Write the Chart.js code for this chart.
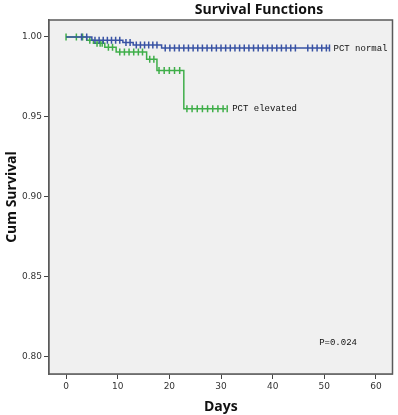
<!DOCTYPE html>
<html>
<head>
<meta charset="utf-8">
<script src="https://cdn.jsdelivr.net/npm/chart.js@4"></script>
<style>
  body { margin: 0; background: #fff; }
  #wrap { width: 398px; height: 415px; }
</style>
</head>
<body>
<div id="wrap"><canvas id="kmChart" width="398" height="415"></canvas></div>
<script>
// Kaplan-Meier steps (day of event, survival after event)
const normalStepDays = [0, 5, 11, 13, 18.5, 51];
const normalStepSurv = [1.0, 0.998, 0.9965, 0.995, 0.993, 0.993];
const normalCensorDays = [3, 4, 5.6, 6.4, 7.2, 8, 8.8, 9.6, 10.4, 11.6, 12.4, 13.6, 14.4, 15.2, 16, 16.8, 17.6,
    19.2, 20.1, 21, 21.9, 22.8, 23.7, 24.6, 25.5, 26.4, 27.3, 28.2, 29.1, 30, 30.9, 31.8, 32.7, 33.6,
    34.5, 35.4, 36.3, 37.2, 38.1, 39, 39.9, 40.8, 41.7, 42.6, 43.5, 44.4, 46.8, 47.7, 48.6, 49.5, 50.4, 51];

const elevatedStepDays = [0, 4, 5.3, 7.5, 9.7, 15.6, 17.6, 22.8, 31];
const elevatedStepSurv = [1.0, 0.998, 0.996, 0.9935, 0.9905, 0.986, 0.979, 0.955, 0.955];
const elevatedCensorDays = [0, 2, 3.2, 4.6, 6, 6.6, 7, 8.2, 9, 10.4, 11.3, 12.2, 13.1, 14, 14.8, 16.2, 17,
    18, 19, 20, 21, 22, 23.4, 24.4, 25.4, 26.4, 27.4, 28.4, 29.4, 30.4, 31.2];

const xTicks = [0, 10, 20, 30, 40, 50, 60];
const yTicks = [0.80, 0.85, 0.90, 0.95, 1.00];

const blue = '#3953a4';
const green = '#3fae49';

function toPoints(days, surv) {
    return days.map(function (d, i) { return { x: d, y: surv[i] }; });
}

// survival value of a step curve at a given day
function survAt(days, surv, t) {
    var s = surv[0];
    for (var i = 0; i < days.length; i++) {
        if (days[i] <= t) s = surv[i];
    }
    return s;
}

function censorPoints(cDays, days, surv) {
    return cDays.map(function (d) { return { x: d, y: survAt(days, surv, d) }; });
}

// gray plot background and frame
const plotBox = {
    id: 'plotBox',
    beforeDatasetsDraw: function (chart) {
        var a = chart.chartArea, c = chart.ctx;
        c.save();
        c.fillStyle = '#f0f0f0';
        c.fillRect(a.left, a.top, a.right - a.left, a.bottom - a.top);
        c.restore();
    },
    afterDraw: function (chart) {
        var a = chart.chartArea, c = chart.ctx;
        var xs = chart.scales.x, ys = chart.scales.y;
        c.save();
        c.strokeStyle = '#5a5a5a';
        c.lineWidth = 1.5;
        c.strokeRect(a.left, a.top, a.right - a.left, a.bottom - a.top);

        c.fillStyle = '#111';
        c.font = 'bold 14px "Open Sans"';
        c.textAlign = 'center';
        c.textBaseline = 'middle';
        c.fillText('Survival Functions', 259, 10);

        c.font = '9px "Liberation Mono"';
        c.textAlign = 'left';
        c.fillStyle = '#111';
        var nLast = normalStepDays.length - 1;
        c.fillText('PCT normal', xs.getPixelForValue(normalStepDays[nLast]) + 4, ys.getPixelForValue(normalStepSurv[nLast]));
        var eLast = elevatedStepDays.length - 1;
        c.fillText('PCT elevated', xs.getPixelForValue(elevatedStepDays[eLast]) + 6, ys.getPixelForValue(elevatedStepSurv[eLast]));
        c.fillText('P=0.024', xs.getPixelForValue(49), ys.getPixelForValue(0.8088));
        c.restore();
    }
};

var ctx = document.getElementById('kmChart').getContext('2d');

var kmChart = new Chart(ctx, {
    type: 'line',
    data: {
        datasets: [
            {
                label: 'PCT normal',
                data: toPoints(normalStepDays, normalStepSurv),
                borderColor: blue,
                borderWidth: 1.5,
                stepped: 'before',
                pointRadius: 0
            },
            {
                label: 'PCT normal censored',
                data: censorPoints(normalCensorDays, normalStepDays, normalStepSurv),
                showLine: false,
                pointStyle: 'line',
                rotation: 90,
                pointRadius: 3.5,
                borderColor: blue,
                borderWidth: 1.5
            },
            {
                label: 'PCT elevated',
                data: toPoints(elevatedStepDays, elevatedStepSurv),
                borderColor: green,
                borderWidth: 1.5,
                stepped: 'before',
                pointRadius: 0
            },
            {
                label: 'PCT elevated censored',
                data: censorPoints(elevatedCensorDays, elevatedStepDays, elevatedStepSurv),
                showLine: false,
                pointStyle: 'line',
                rotation: 90,
                pointRadius: 3.5,
                borderColor: green,
                borderWidth: 1.5
            }
        ]
    },
    plugins: [plotBox],
    options: {
        responsive: false,
        animation: false,
        layout: { padding: { top: 20, right: 4, left: 0, bottom: 0 } },
        plugins: {
            legend: { display: false },
            tooltip: { enabled: false }
        },
        scales: {
            x: {
                type: 'linear',
                min: -3.3,
                max: 63.2,
                afterBuildTicks: function (scale) {
                    scale.ticks = xTicks.map(function (v) { return { value: v }; });
                },
                afterFit: function (scale) { scale.height = 41; },
                grid: { drawOnChartArea: false, tickLength: 5, color: '#444', tickWidth: 1 },
                border: { display: true, color: '#5a5a5a', width: 1.5 },
                ticks: {
                    padding: 2,
                    color: '#333',
                    font: { family: 'DejaVu Sans', size: 9 },
                    maxRotation: 0
                },
                title: {
                    display: true,
                    text: 'Days',
                    color: '#111',
                    font: { family: 'Open Sans', size: 14, weight: 'bold' },
                    padding: { top: 1.2, bottom: 0 }
                }
            },
            y: {
                min: 0.789,
                max: 1.0106,
                afterBuildTicks: function (scale) {
                    scale.ticks = yTicks.map(function (v) { return { value: v }; });
                },
                afterFit: function (scale) { scale.width = 49; },
                grid: { drawOnChartArea: false, tickLength: 5, color: '#444', tickWidth: 1 },
                border: { display: true, color: '#5a5a5a', width: 1.5 },
                ticks: {
                    padding: 2,
                    color: '#333',
                    font: { family: 'DejaVu Sans', size: 9 },
                    callback: function (v) { return Number(v).toFixed(2); }
                },
                title: {
                    display: true,
                    text: 'Cum Survival',
                    color: '#111',
                    font: { family: 'Open Sans', size: 14, weight: 'bold' },
                    padding: { top: 4, bottom: 0 }
                }
            }
        }
    }
});
</script>
</body>
</html>
